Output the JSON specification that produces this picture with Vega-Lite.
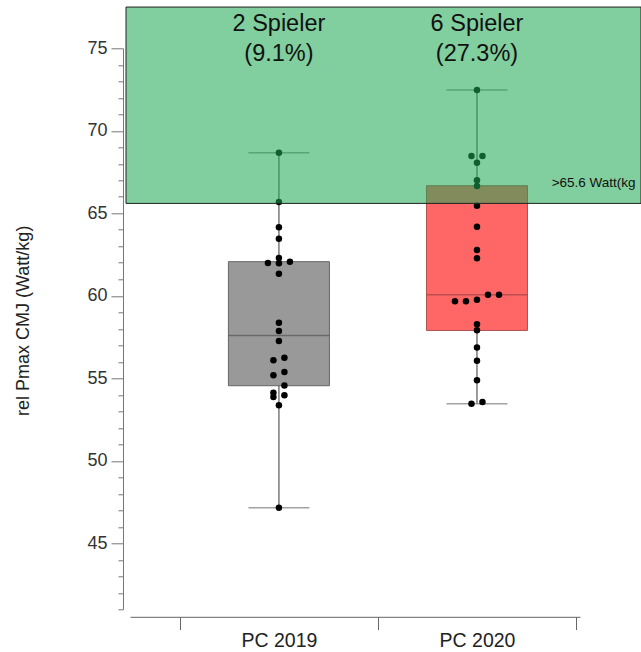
{
  "$schema": "https://vega.github.io/schema/vega-lite/v6.json",
  "width": 515,
  "height": 561,
  "autosize": {"type": "none"},
  "padding": {"left": 126, "top": 48.3, "right": 0, "bottom": 42.7},
  "config": {"font": "Liberation Sans", "view": {"stroke": null}},
  "datasets": {
    "boxes": [
      {"group": "PC 2019", "lower": 47.16, "q1": 54.55, "median": 57.6, "q3": 62.07, "upper": 68.67},
      {"group": "PC 2020", "lower": 53.46, "q1": 57.9, "median": 60.07, "q3": 66.67, "upper": 72.47}
    ],
    "points": [
      {"group": "PC 2019", "v": 68.67, "off": 0},
      {"group": "PC 2019", "v": 65.69, "off": 0},
      {"group": "PC 2019", "v": 64.15, "off": 0},
      {"group": "PC 2019", "v": 63.46, "off": 0},
      {"group": "PC 2019", "v": 62.29, "off": 0},
      {"group": "PC 2019", "v": 61.99, "off": -1},
      {"group": "PC 2019", "v": 62.07, "off": 1},
      {"group": "PC 2019", "v": 61.97, "off": 0},
      {"group": "PC 2019", "v": 61.34, "off": 0},
      {"group": "PC 2019", "v": 58.37, "off": 0},
      {"group": "PC 2019", "v": 57.87, "off": 0},
      {"group": "PC 2019", "v": 57.26, "off": 0},
      {"group": "PC 2019", "v": 56.09, "off": -0.5},
      {"group": "PC 2019", "v": 56.25, "off": 0.5},
      {"group": "PC 2019", "v": 55.18, "off": -0.5},
      {"group": "PC 2019", "v": 55.38, "off": 0.5},
      {"group": "PC 2019", "v": 54.57, "off": 0.5},
      {"group": "PC 2019", "v": 54.13, "off": -0.5},
      {"group": "PC 2019", "v": 53.87, "off": -0.5},
      {"group": "PC 2019", "v": 53.97, "off": 0.5},
      {"group": "PC 2019", "v": 53.36, "off": 0},
      {"group": "PC 2019", "v": 47.16, "off": 0},
      {"group": "PC 2020", "v": 72.47, "off": 0},
      {"group": "PC 2020", "v": 68.47, "off": -0.5},
      {"group": "PC 2020", "v": 68.47, "off": 0.5},
      {"group": "PC 2020", "v": 68.07, "off": 0},
      {"group": "PC 2020", "v": 67.0, "off": 0},
      {"group": "PC 2020", "v": 66.65, "off": 0},
      {"group": "PC 2020", "v": 65.46, "off": 0},
      {"group": "PC 2020", "v": 64.19, "off": 0},
      {"group": "PC 2020", "v": 62.78, "off": 0},
      {"group": "PC 2020", "v": 62.27, "off": 0},
      {"group": "PC 2020", "v": 59.67, "off": -2},
      {"group": "PC 2020", "v": 59.67, "off": -1},
      {"group": "PC 2020", "v": 59.76, "off": 0},
      {"group": "PC 2020", "v": 60.07, "off": 1},
      {"group": "PC 2020", "v": 60.07, "off": 2},
      {"group": "PC 2020", "v": 58.27, "off": 0},
      {"group": "PC 2020", "v": 57.91, "off": 0},
      {"group": "PC 2020", "v": 56.86, "off": 0},
      {"group": "PC 2020", "v": 56.07, "off": 0},
      {"group": "PC 2020", "v": 54.88, "off": 0},
      {"group": "PC 2020", "v": 53.46, "off": -0.5},
      {"group": "PC 2020", "v": 53.56, "off": 0.5}
    ],
    "zone": [{"lo": 65.6, "hi": 77.5}],
    "counts": [
      {"group": "PC 2019", "y": 76.48, "label": "2 Spieler\n(9.1%)"},
      {"group": "PC 2020", "y": 76.48, "label": "6 Spieler\n(27.3%)"}
    ],
    "threshold": [{"group": "PC 2020", "y": 66.85, "label": ">65.6 Watt(kg"}]
  },
  "layer": [
    {
      "data": {"name": "boxes"},
      "mark": {"type": "rule", "color": "#7a7a7a", "strokeWidth": 1.5},
      "encoding": {
        "x": {
          "field": "group", "type": "nominal", "title": null,
          "scale": {"domain": ["PC 2019", "PC 2020"], "range": [4, 454], "paddingInner": 0, "paddingOuter": 0.136, "align": 0.926},
          "axis": {
            "orient": "bottom", "offset": 7.5, "tickBand": "extent", "tickSize": 12.7, "tickColor": "#666", "tickWidth": 1,
            "domainColor": "#666", "domainWidth": 1, "labelFontSize": 19.5, "labelColor": "#222", "labelPadding": 2.3, "labelAngle": 0
          }
        },
        "y": {
          "field": "lower", "type": "quantitative", "title": "rel Pmax CMJ (Watt/kg)",
          "scale": {"domain": [41, 75], "nice": false, "zero": false},
          "axis": {
            "orient": "left", "offset": 3, "grid": false, "labelOverlap": false, "labelBound": false, "tickCount": 60, "format": "d",
            "values": [41,42,43,44,45,46,47,48,49,50,51,52,53,54,55,56,57,58,59,60,61,62,63,64,65,66,67,68,69,70,71,72,73,74,75],
            "labelExpr": "datum.value % 5 === 0 ? datum.label : ''",
            "tickSize": {"condition": {"test": "datum.value % 5 === 0", "value": 12}, "value": 5},
            "tickColor": "#777", "domainColor": "#777", "labelFontSize": 18, "labelColor": "#333", "labelPadding": 4,
            "titleFontSize": 18, "titleFontWeight": "normal", "titleColor": "#222", "titleBaseline": "middle", "titleX": -100, "titleY": 272
          }
        },
        "y2": {"field": "upper"}
      }
    },
    {
      "data": {"name": "boxes"},
      "mark": {"type": "tick", "color": "#7a7a7a", "size": 61, "thickness": 1.5},
      "encoding": {
        "x": {"field": "group", "type": "nominal", "title": null},
        "y": {"field": "lower", "type": "quantitative", "title": "rel Pmax CMJ (Watt/kg)"}
      }
    },
    {
      "data": {"name": "boxes"},
      "mark": {"type": "tick", "color": "#7a7a7a", "size": 61, "thickness": 1.5},
      "encoding": {
        "x": {"field": "group", "type": "nominal", "title": null},
        "y": {"field": "upper", "type": "quantitative", "title": "rel Pmax CMJ (Watt/kg)"}
      }
    },
    {
      "data": {"name": "boxes"},
      "mark": {"type": "bar", "width": 101, "strokeWidth": 1},
      "encoding": {
        "x": {"field": "group", "type": "nominal", "title": null},
        "y": {"field": "q1", "type": "quantitative", "title": "rel Pmax CMJ (Watt/kg)"},
        "y2": {"field": "q3"},
        "fill": {"field": "group", "type": "nominal", "scale": {"range": ["#999999", "#ff6666"]}, "legend": null},
        "stroke": {"field": "group", "type": "nominal", "scale": {"range": ["#666666", "#b05050"]}, "legend": null}
      }
    },
    {
      "data": {"name": "boxes"},
      "mark": {"type": "tick", "size": 101, "thickness": 1.5},
      "encoding": {
        "x": {"field": "group", "type": "nominal", "title": null},
        "y": {"field": "median", "type": "quantitative", "title": "rel Pmax CMJ (Watt/kg)"},
        "color": {"field": "group", "type": "nominal", "scale": {"range": ["#555555", "#a04444"]}, "legend": null}
      }
    },
    {
      "data": {"name": "points"},
      "mark": {"type": "circle", "color": "#000000", "size": 42, "opacity": 1},
      "encoding": {
        "x": {"field": "group", "type": "nominal", "title": null},
        "xOffset": {"field": "off", "type": "quantitative", "scale": {"domain": [-9, 9]}},
        "y": {"field": "v", "type": "quantitative", "title": "rel Pmax CMJ (Watt/kg)"}
      }
    },
    {
      "data": {"name": "zone"},
      "mark": {"type": "rect", "fill": "#1fa852", "fillOpacity": 0.56, "stroke": "#222222", "strokeWidth": 1},
      "encoding": {
        "y": {"field": "lo", "type": "quantitative", "title": "rel Pmax CMJ (Watt/kg)"},
        "y2": {"field": "hi"}
      }
    },
    {
      "data": {"name": "counts"},
      "mark": {"type": "text", "fontSize": 23.5, "lineBreak": "\n", "lineHeight": 30, "align": "center", "baseline": "middle", "color": "#111"},
      "encoding": {
        "x": {"field": "group", "type": "nominal", "title": null},
        "y": {"field": "y", "type": "quantitative", "title": "rel Pmax CMJ (Watt/kg)"},
        "text": {"field": "label"}
      }
    },
    {
      "data": {"name": "threshold"},
      "mark": {"type": "text", "fontSize": 13.5, "align": "left", "baseline": "middle", "color": "#111"},
      "encoding": {
        "x": {"field": "group", "type": "nominal", "title": null, "bandPosition": 0.877},
        "y": {"field": "y", "type": "quantitative", "title": "rel Pmax CMJ (Watt/kg)"},
        "text": {"field": "label"}
      }
    }
  ]
}
